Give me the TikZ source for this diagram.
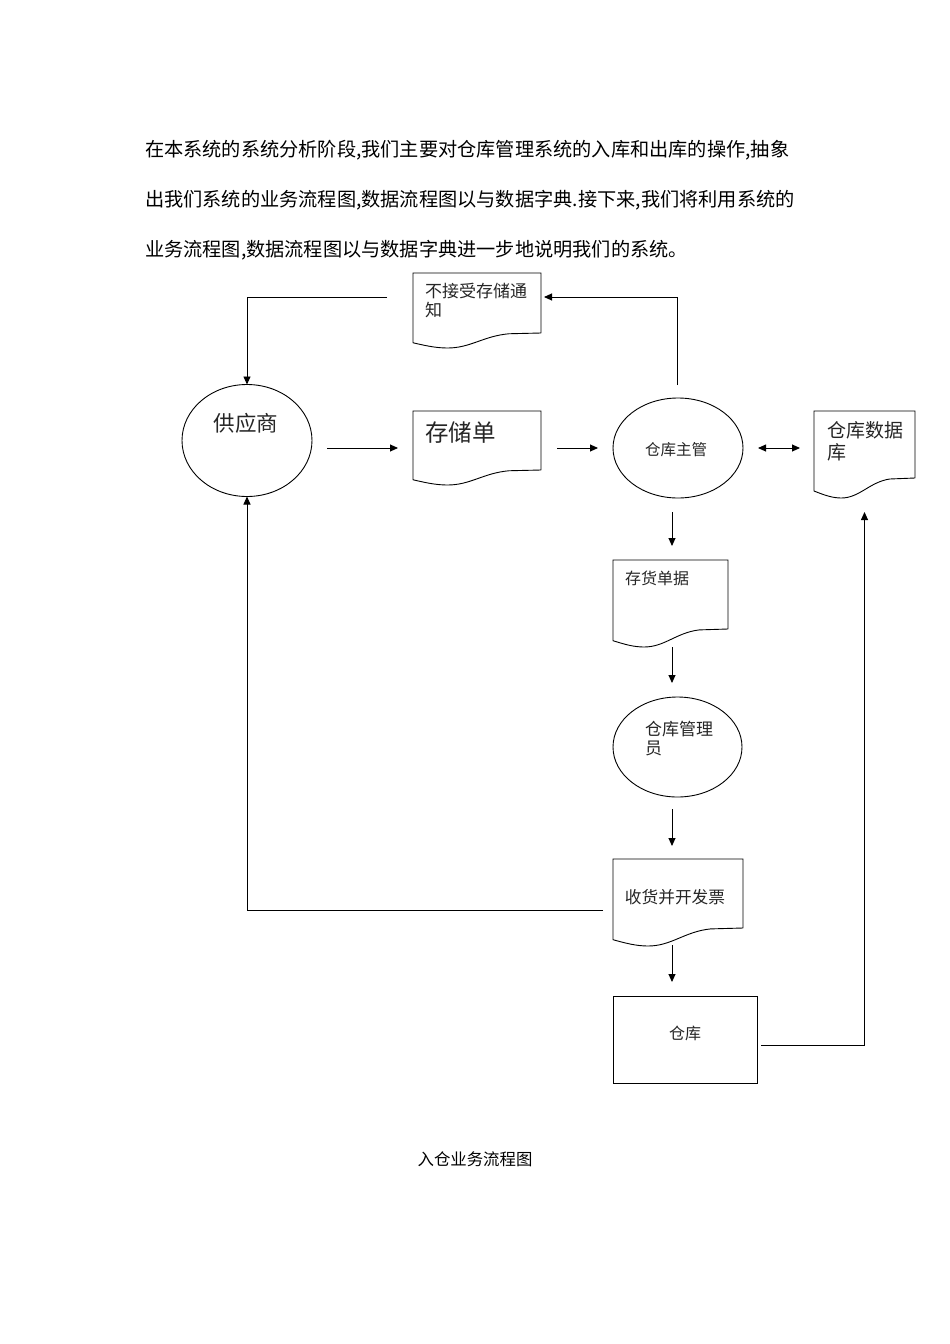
\documentclass[tikz,border=0pt]{standalone}
\usepackage{fontspec}
\newfontfamily\cjk{Noto Sans CJK SC}
\usetikzlibrary{shapes.geometric,arrows.meta,calc}
\newcommand{\fs}[1]{\cjk\fontsize{#1}{#1}\selectfont}
\tikzset{
 ln/.style={line width=0.9pt, draw=black},
 arr/.style={ln, -{Triangle[length=8pt,width=7pt]}},
 darr/.style={ln, {Triangle[length=8pt,width=7pt]}-{Triangle[length=8pt,width=7pt]}},
 docbox/.style={rectangle, draw=none, inner sep=0pt, outer sep=0pt},
 ell/.style={ellipse, ln, inner sep=0pt, outer sep=0pt},
 boxn/.style={rectangle, ln, inner sep=0pt, outer sep=0pt},
 lbl/.style={inner sep=0pt, outer sep=0pt, text=black!85},
 body/.style={inner sep=0pt, outer sep=0pt, anchor=west, font=\fs{19.2}},
}
\newcommand{\docsh}[2]{%
 \draw[ln] (#1.south east) -- (#1.north east) -- (#1.north west) -- ($(#1.south west)+(0,0.65*#2)$)
  .. controls ($(#1.south west)!0.1!(#1.south east)+(0,0.85*#2)$) and ($(#1.south west)!0.18!(#1.south east)+(0,#2)$) .. ($(#1.south west)!0.27!(#1.south east)+(0,#2)$)
  .. controls ($(#1.south west)!0.45!(#1.south east)+(0,#2)$) and ($(#1.south west)!0.55!(#1.south east)+(0,0.2*#2)$) .. ($(#1.south west)!0.75!(#1.south east)+(0,0.05*#2)$)
  .. controls ($(#1.south west)!0.88!(#1.south east)$) .. (#1.south east);}
\begin{document}
\begin{tikzpicture}[x=1pt,y=-1pt]
\fill[white] (0,0) rectangle (950,1344);
\useasboundingbox (0,0) rectangle (950,1344);
% body text
\node[body] (t1) at (145,150) {在本系统的系统分析阶段,我们主要对仓库管理系统的入库和出库的操作,抽象};
\node[body] (t2) at (145,200) {出我们系统的业务流程图,数据流程图以与数据字典.接下来,我们将利用系统的};
\node[body] (t3) at (145,250) {业务流程图,数据流程图以与数据字典进一步地说明我们的系统。};
% document shapes
\node[docbox, minimum width=128pt, minimum height=60pt] (nj) at (477,303) {};
\docsh{nj}{15}
\node[lbl, anchor=west, align=left, font=\cjk\fontsize{17}{19.5}\selectfont] (nj-t) at (425,300.5) {不接受存储通\\知};
\node[docbox, minimum width=128pt, minimum height=59pt] (zc) at (477,440.5) {};
\docsh{zc}{15}
\node[lbl, anchor=west, font=\fs{23.5}] (zc-t) at (425,433) {存储单};
\node[docbox, minimum width=101pt, minimum height=67pt] (db) at (864.5,444.5) {};
\docsh{db}{20}
\node[lbl, anchor=west, align=left, font=\cjk\fontsize{19}{22}\selectfont] (db-t) at (827,441) {仓库数据\\库};
\node[docbox, minimum width=115pt, minimum height=69pt] (ch) at (670.5,594.5) {};
\docsh{ch}{18}
\node[lbl, anchor=west, font=\fs{16}] (ch-t) at (625,578) {存货单据};
\node[docbox, minimum width=130pt, minimum height=69pt] (sh) at (678,893.5) {};
\docsh{sh}{18}
\node[lbl, font=\fs{16.7}] (sh-t) at (675,897) {收货并开发票};
% ellipses
\node[ell, minimum width=130pt, minimum height=112pt] (sup) at (247,440.5) {};
\node[lbl, font=\fs{21.5}] (sup-t) at (246,423) {供应商};
\node[ell, minimum width=130pt, minimum height=100pt] (zg) at (678,448) {};
\node[lbl, font=\fs{15.5}] (zg-t) at (676,450) {仓库主管};
\node[ell, minimum width=129pt, minimum height=100pt] (gly) at (677.5,747) {};
\node[lbl, anchor=west, align=left, font=\cjk\fontsize{17}{19}\selectfont] (gly-t) at (645,738.5) {仓库管理\\员};
% rectangle
\node[boxn, minimum width=144pt, minimum height=87pt] (ck) at (685,1039.5) {};
\node[lbl, font=\fs{16}] (ck-t) at (685,1033) {仓库};
% caption
\node[inner sep=0pt, font=\fs{16.4}] (cap) at (475,1159) {入仓业务流程图};
% connectors
\coordinate (col) at (672,0);
\draw[arr] ([xshift=-26pt,yshift=6pt]nj.west) -| (sup.north);
\draw[arr] ([yshift=13pt,xshift=-1pt]zg.north) |- ([xshift=3pt,yshift=6pt]nj.east);
\draw[arr, shorten <=15pt, shorten >=15pt] (sup.east |- zg) -- (zc.west |- zg);
\draw[arr, shorten <=16pt, shorten >=15pt] (zc.east |- zg) -- (zg.west);
\draw[darr, shorten <=15pt, shorten >=14pt] (zg.east) -- (db.west |- zg);
\draw[arr, shorten <=14pt, shorten >=14pt] (zg.south -| col) -- (ch.north -| col);
\draw[arr, shorten <=18pt, shorten >=14pt] (ch.south -| col) -- (gly.north -| col);
\draw[arr, shorten <=12pt, shorten >=13pt] (gly.south -| col) -- (sh.north -| col);
\draw[arr, shorten <=17pt, shorten >=14pt] (sh.south -| col) -- (ck.north -| col);
\draw[arr] ([xshift=-10pt,yshift=-16.5pt]sh.west) -| (sup.south);
\draw[arr, shorten >=34pt] ([xshift=4pt,yshift=-6pt]ck.east) -| (db.south);
\end{tikzpicture}
\end{document}
